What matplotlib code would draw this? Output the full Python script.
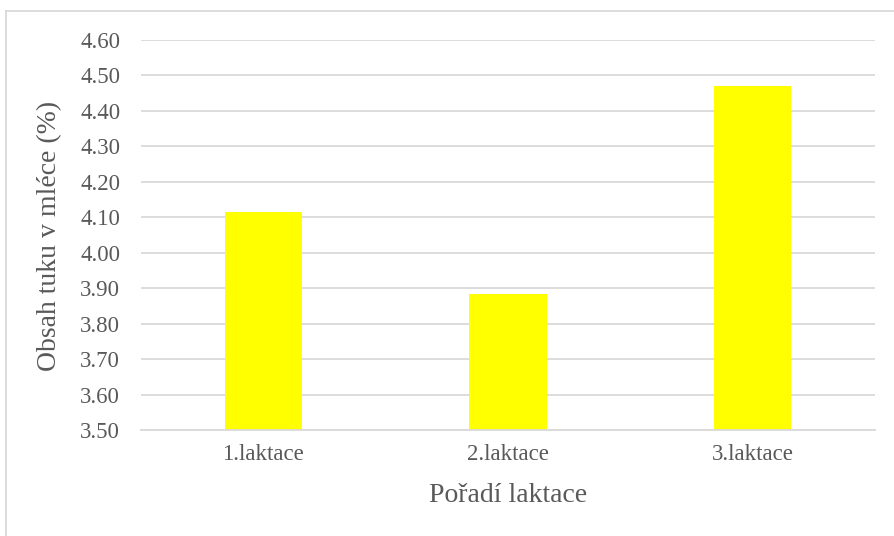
import numpy as np
import matplotlib
matplotlib.use('Agg')
import matplotlib.pyplot as plt
from matplotlib.lines import Line2D

categories = ['1.laktace', '2.laktace', '3.laktace']
fat = [4.115, 3.885, 4.471]
yticks = [3.50, 3.60, 3.70, 3.80, 3.90, 4.00, 4.10, 4.20, 4.30, 4.40, 4.50, 4.60]

plt.rcParams['font.family'] = ['Liberation Serif', 'DejaVu Serif']
grey_text = '#595959'
grey_line = '#d9d9d9'

fig = plt.figure(figsize=(8.95, 5.36), dpi=100)
ax = fig.add_axes([141/895, 1-430/536, 734/895, 390/536])

x = np.arange(len(categories))
ax.bar(x, fat, width=0.315, bottom=0, color='#ffff00', zorder=2)
ax.set_xlim(-0.5, len(categories) - 0.5)
ax.set_ylim(3.5, 4.6)
ax.set_yticks(yticks)
ax.set_yticklabels(['%.2f' % v for v in yticks])
ax.set_xticks(x)
ax.set_xticklabels(categories)
ax.yaxis.grid(True, color=grey_line, linewidth=1.3)
ax.set_axisbelow(True)
for s in ['top', 'right', 'left']:
    ax.spines[s].set_visible(False)
ax.spines['bottom'].set_color(grey_line)
ax.spines['bottom'].set_linewidth(1.3)
ax.tick_params(axis='x', length=0, pad=10, labelsize=16.5, labelcolor=grey_text)
ax.tick_params(axis='y', length=0, pad=15, labelsize=16.5, labelcolor=grey_text)

fig.text(508/895, 1-496/536, 'Pořadí laktace', fontsize=20, color=grey_text,
         ha='center', va='center')
fig.text(50/895, 1-236/536, 'Obsah tuku v mléce (%)', fontsize=20, color=grey_text,
         ha='center', va='center', rotation=90)

# chart border (only top and left visible in the picture)
fig.add_artist(Line2D([6/895, 6/895], [0, 1-11/536], transform=fig.transFigure,
                      color=grey_line, linewidth=1.3))
fig.add_artist(Line2D([6/895, 1], [1-11/536, 1-11/536], transform=fig.transFigure,
                      color=grey_line, linewidth=1.3))

fig.savefig('out.png', dpi=100)
